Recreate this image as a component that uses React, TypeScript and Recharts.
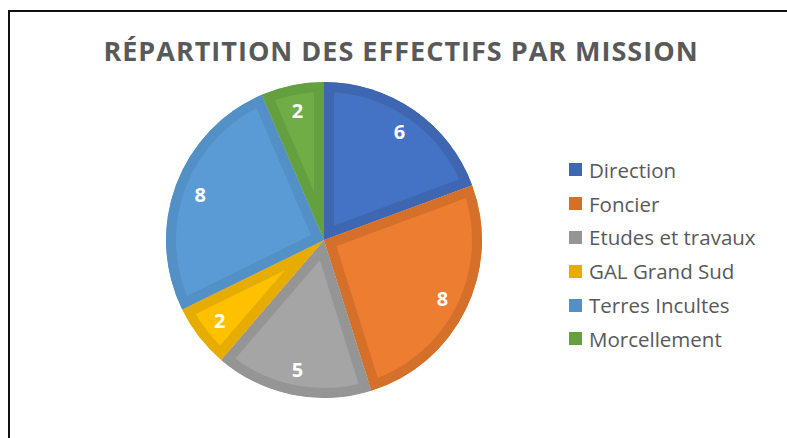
import { PieChart, Pie, Sector } from "recharts";

const missions = ["Direction", "Foncier", "Etudes et travaux", "GAL Grand Sud", "Terres Incultes", "Morcellement"];
const effectifs = [6, 8, 5, 2, 8, 2];
const fillColors = ["#4472C4", "#ED7D31", "#A5A5A5", "#FFC000", "#5B9BD5", "#70AD47"];
const edgeColors = ["#3F67B1", "#D5702B", "#959595", "#E6AD00", "#5290C5", "#65A040"];

const data = missions.map((name, i) => ({ name, value: effectifs[i] }));

const FONT = "'Open Sans', 'Noto Sans', sans-serif";
const RAD = Math.PI / 180;

// slice with a darker band drawn inside its own edges
function InsetSlice(props: any) {
  const { cx, cy, innerRadius, outerRadius, startAngle, endAngle, index } = props;
  const clipId = `slice-clip-${index}`;
  return (
    <g>
      <defs>
        <clipPath id={clipId}>
          <Sector cx={cx} cy={cy} innerRadius={innerRadius} outerRadius={outerRadius} startAngle={startAngle} endAngle={endAngle} />
        </clipPath>
      </defs>
      <Sector
        cx={cx}
        cy={cy}
        innerRadius={innerRadius}
        outerRadius={outerRadius}
        startAngle={startAngle}
        endAngle={endAngle}
        fill={fillColors[index]}
        stroke={edgeColors[index]}
        strokeWidth={20}
        strokeLinejoin="miter"
        clipPath={`url(#${clipId})`}
      />
    </g>
  );
}

function renderLabel(props: any) {
  const { cx, cy, midAngle, outerRadius, value } = props;
  const r = outerRadius - 26;
  const x = cx + r * Math.cos(-midAngle * RAD);
  const y = cy + r * Math.sin(-midAngle * RAD);
  return (
    <text x={x} y={y} fill="#FFFFFF" fontFamily={FONT} fontWeight={700} fontSize={20} textAnchor="middle" dominantBaseline="central">
      {value}
    </text>
  );
}

export default function App() {
  return (
    <div style={{ position: "absolute", left: 0, top: 0, width: 787, height: 438, overflow: "hidden", background: "#FFFFFF" }}>
      <div style={{ position: "absolute", left: 8, top: 10, width: 820, height: 500, border: "2px solid #111111" }} />
      <PieChart width={787} height={438} margin={{ top: 0, right: 0, bottom: 0, left: 0 }} style={{ position: "absolute", left: 0, top: 0 }}>
        <text x={401} y={61} textAnchor="middle" fill="#595959" fontFamily={FONT} fontWeight={700} fontSize={27} letterSpacing={1}>
          RÉPARTITION DES EFFECTIFS PAR MISSION
        </text>
        <Pie
          data={data}
          dataKey="value"
          nameKey="name"
          cx={324}
          cy={240}
          outerRadius={158}
          startAngle={90}
          endAngle={-270}
          stroke="none"
          shape={InsetSlice}
          label={renderLabel}
          labelLine={false}
          isAnimationActive={false}
        />
      </PieChart>
      <div style={{ position: "absolute", left: 569, top: 153, fontFamily: FONT }}>
        {missions.map((name, i) => (
          <div key={name} style={{ display: "flex", alignItems: "center", height: 33.8 }}>
            <span style={{ width: 13, height: 13, background: edgeColors[i], display: "inline-block", marginRight: 7 }} />
            <span style={{ fontSize: 20.5, color: "#595959", whiteSpace: "nowrap" }}>{name}</span>
          </div>
        ))}
      </div>
    </div>
  );
}
